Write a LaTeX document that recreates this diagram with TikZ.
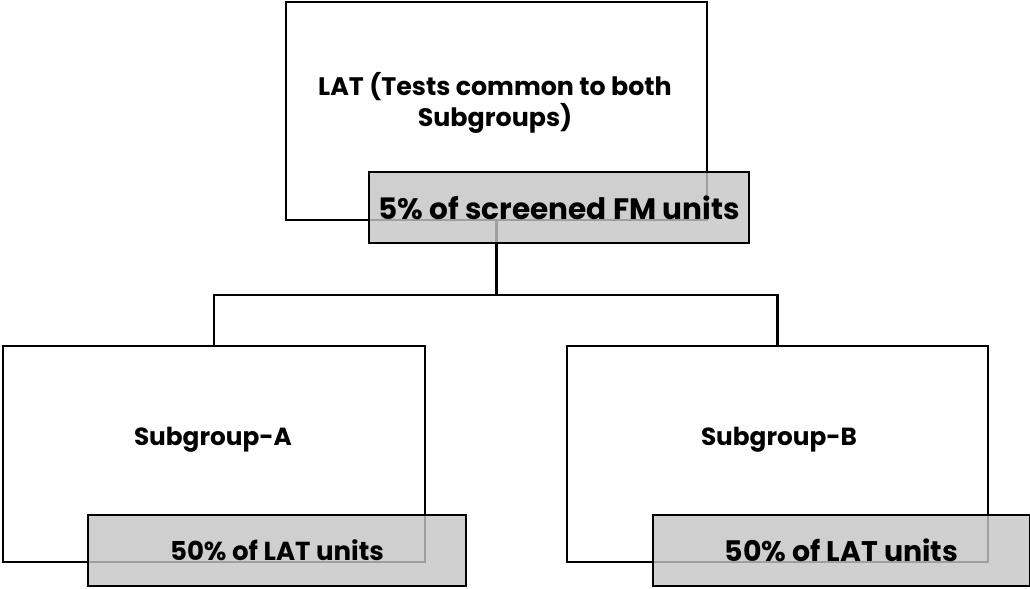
\documentclass[tikz,border=0pt]{standalone}
\usepackage{fontspec}
\setmainfont{Poppins}
\usetikzlibrary{positioning}
\definecolor{TagFill}{RGB}{197,197,197}
\tikzset{
  grp/.style={
    rectangle, draw=black, line width=2pt, fill=white, inner sep=0pt},
  tag/.style={
    rectangle, draw=black, line width=2pt,
    fill=TagFill, fill opacity=0.81, text opacity=1, inner sep=0pt},
  lbl/.style={font=\bfseries\fontsize{18}{22}\selectfont, align=center, inner sep=0pt},
  wire/.style={line width=2pt},
}

\begin{document}
\begin{tikzpicture}[x=0.025cm,y=-0.025cm]

\useasboundingbox (0,0) rectangle (1030,588);

%% group boxes
\node[grp, minimum width=10.525cm, minimum height=5.45cm] at (496.5,111) (lat){};
\node[grp, minimum width=10.55cm,  minimum height=5.4cm]  at (214,454)   (sga){};
\node[grp, minimum width=10.525cm, minimum height=5.4cm]  at (777.5,454) (sgb){};

\node[lbl] at (495,103) (latlbl){LAT (Tests common to both\\Subgroups)};
\node[lbl, font=\bfseries\fontsize{17.6}{21}\selectfont] at (213,440) (sgalbl){Subgroup-A};
\node[lbl, font=\bfseries\fontsize{17.6}{21}\selectfont] at (779,440) (sgblbl){Subgroup-B};

%% tree
\coordinate (fork) at (496.5,295);
\draw[wire] (lat.south)--(fork);
\draw[wire] (fork)-|(sga.north);
\draw[wire] (fork)-|(sgb.north);

%% share tags
\node[tag, minimum width=9.5cm,   minimum height=1.775cm, font=\bfseries\fontsize{21}{25}\selectfont]
  at (559,207.5) (tagtop){5\% of screened FM units};
\node[tag, minimum width=9.45cm,  minimum height=1.775cm, font=\bfseries\fontsize{18.5}{22}\selectfont]
  at (277,550.5) (taga){50\% of LAT units};
\node[tag, minimum width=9.425cm, minimum height=1.775cm, font=\bfseries\fontsize{20.2}{24}\selectfont]
  at (841.5,550.5) (tagb){50\% of LAT units};

\end{tikzpicture}
\end{document}
